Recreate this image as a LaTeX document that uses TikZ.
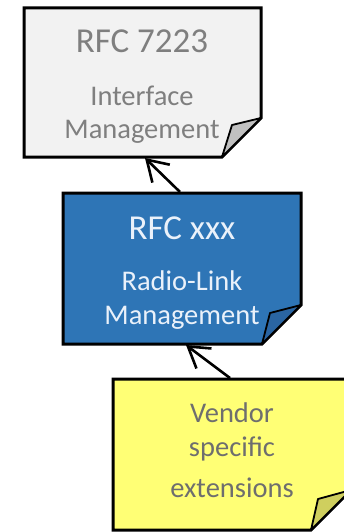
\documentclass[tikz,border=0pt]{standalone}
\usepackage{fontspec}
\setmainfont{Carlito}
\usetikzlibrary{arrows.meta}
\definecolor{grayfill}{HTML}{F2F2F2}
\definecolor{grayfold}{HTML}{C0C0C0}
\definecolor{grayText}{HTML}{7F7F7F}
\definecolor{bluefill}{HTML}{2E75B6}
\definecolor{bluefold}{HTML}{2A65A2}
\definecolor{blueText}{HTML}{EAF1FA}
\definecolor{yellowfill}{HTML}{FFFF75}
\definecolor{yellowfold}{HTML}{CFCF5E}
\definecolor{yellowText}{HTML}{6E6E6E}
\begin{document}
\begin{tikzpicture}[x=1pt,y=-1pt,
  note/.style={draw=black,line width=3pt,line join=miter},
  fold/.style={draw=black,line width=1.8pt,line join=round},
  title/.style={anchor=base,inner sep=0pt,font=\fontsize{35}{42}\selectfont},
  body/.style={anchor=base,inner sep=0pt,font=\fontsize{28.5}{34}\selectfont},
  link/.style={draw=black,line width=2.6pt,-{Straight Barb[length=20pt,width=25pt,line width=2.6pt]}}]
\useasboundingbox (0,0) rectangle (344,532);
\begin{scope}
\clip (0,0) rectangle (344,532);
% box 1
\path[note,fill=grayfill] (24,8) -- (261,8) -- (261,118) -- (222,157) -- (24,157) -- cycle;
\path[fold,fill=grayfold] (261,118) -- (232,125) -- (222,157) -- cycle;
\node[title,text=grayText] (t1) at (142,53) {RFC 7223};
\node[body,text=grayText] (b1a) at (142,106) {Interface};
\node[body,text=grayText] (b1b) at (142,138) {Management};
% box 2
\path[note,fill=bluefill] (63,193) -- (301,193) -- (301,305) -- (262,344) -- (63,344) -- cycle;
\path[fold,fill=bluefold] (301,305) -- (270,313) -- (262,344) -- cycle;
\node[title,text=blueText] (t2) at (182,239) {RFC xxx};
\node[body,text=blueText] (b2a) at (182,290) {Radio-Link};
\node[body,text=blueText] (b2b) at (182,324) {Management};
% box 3
\path[note,fill=yellowfill] (113,379) -- (351,379) -- (351,490) -- (311,530) -- (113,530) -- cycle;
\path[fold,fill=yellowfold] (351,490) -- (318,499) -- (311,530) -- cycle;
\node[body,text=yellowText] (b3a) at (232,422) {Vendor};
\node[body,text=yellowText] (b3b) at (232,456) {specific};
\node[body,text=yellowText] (b3c) at (232,497) {extensions};
\end{scope}
% connectors
\coordinate (box1bottom) at (145,158);
\coordinate (box2top) at (180,192);
\coordinate (box2bottom) at (186,345);
\coordinate (box3top) at (230,378);
\path[link] (box2top) -- (box1bottom);
\path[link] (box3top) -- (box2bottom);
\end{tikzpicture}
\end{document}
